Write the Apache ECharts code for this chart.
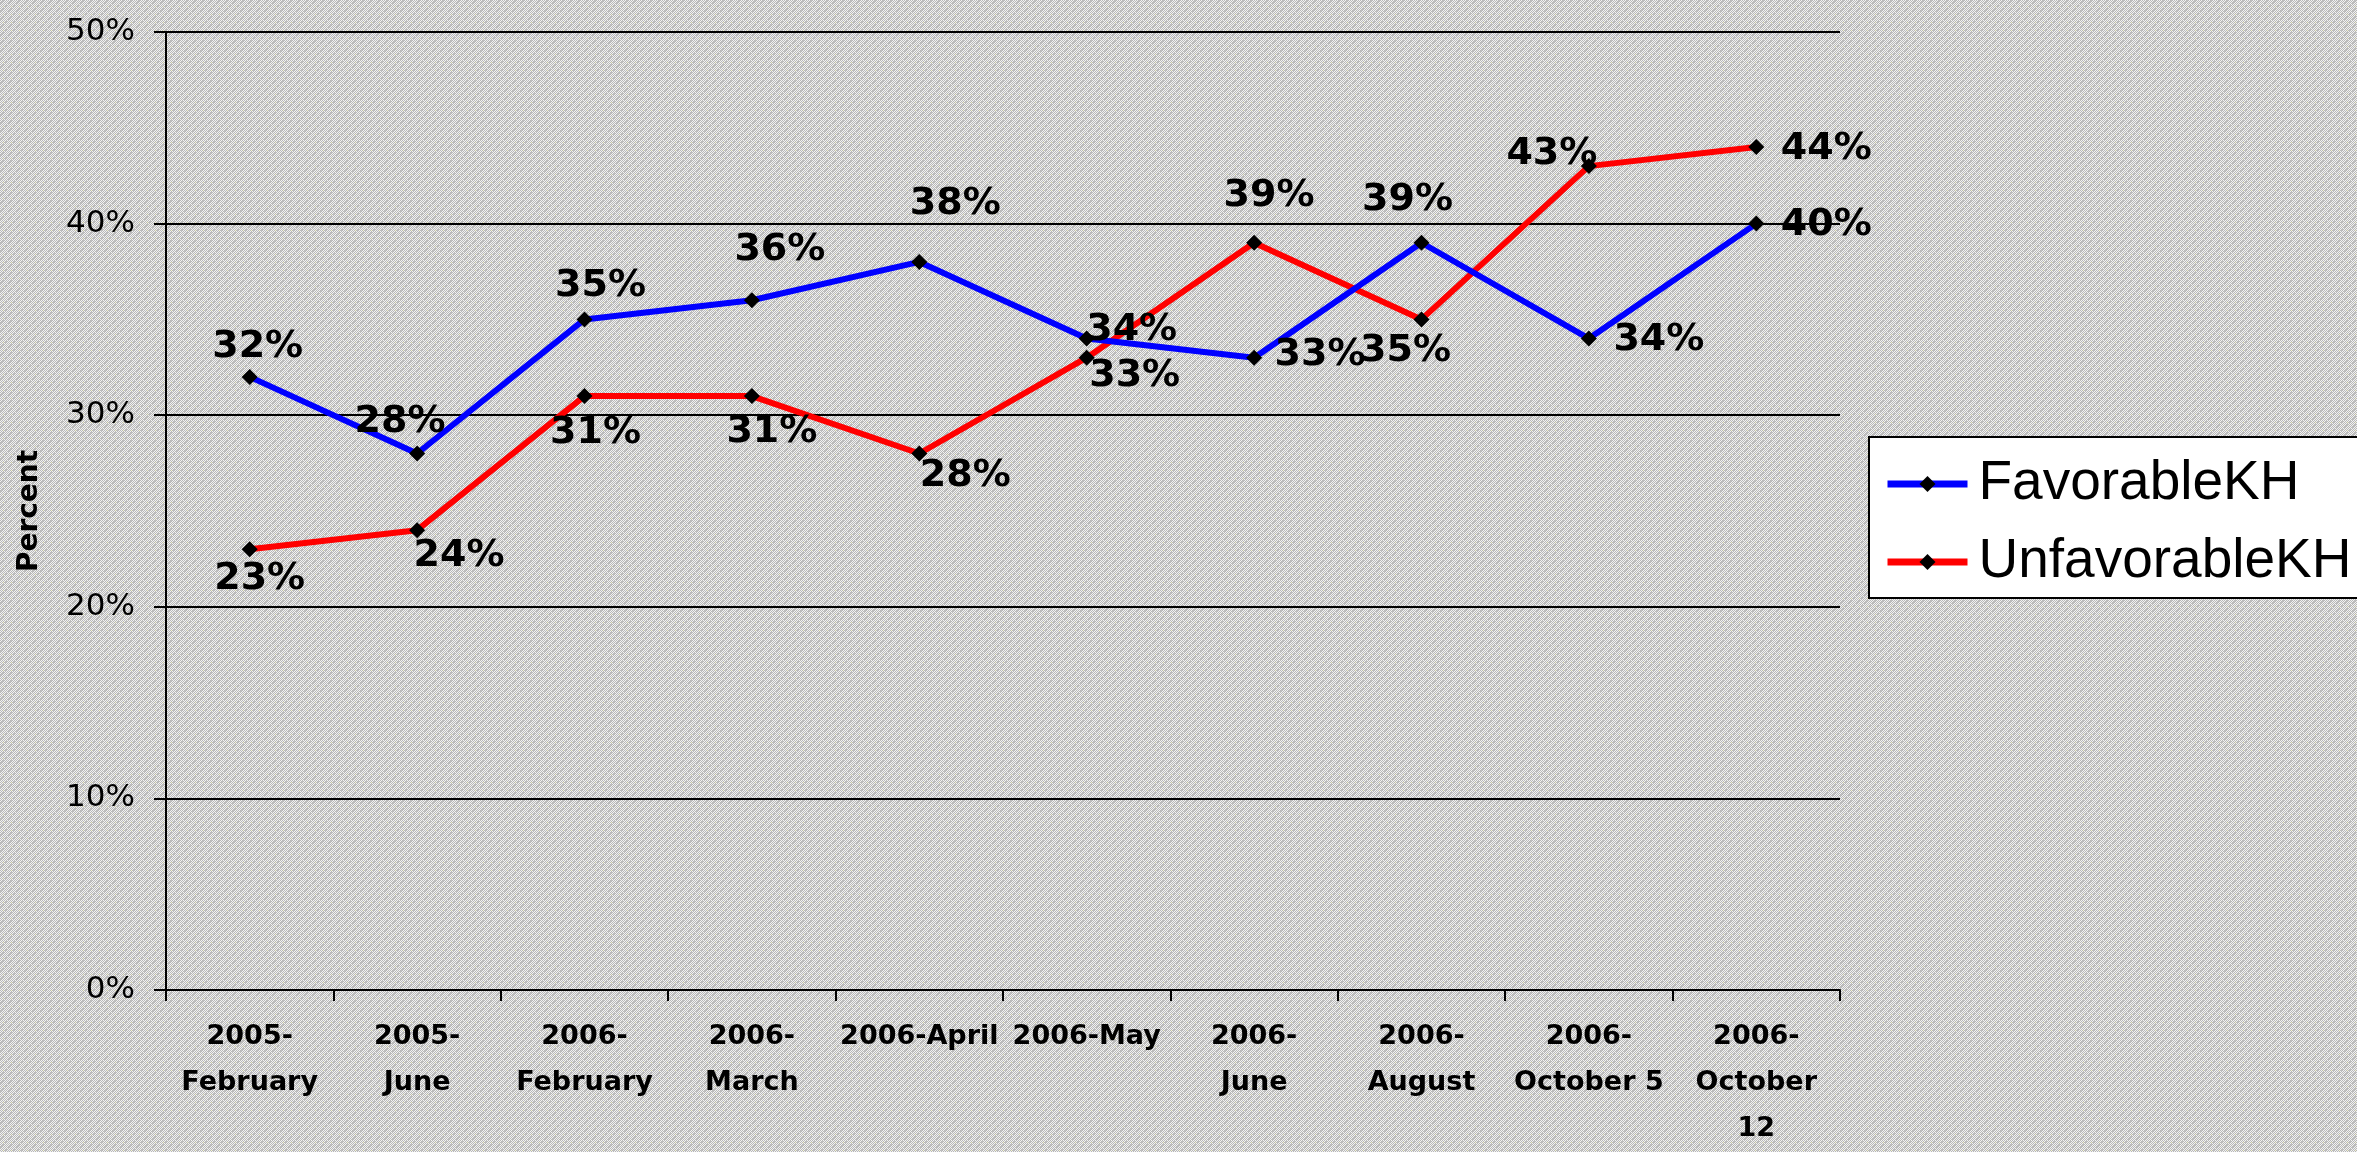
<!DOCTYPE html>
<html>
<head>
<meta charset="utf-8">
<script src="https://cdn.jsdelivr.net/npm/echarts@6/dist/echarts.min.js"></script>
<style>
  html, body { margin: 0; padding: 0; }
  #chart { width: 2357px; height: 1152px; }
</style>
</head>
<body>
<div id="chart"></div>
<script>
// ---- data ----
const categories = ['2005-\nFebruary', '2005-\nJune', '2006-\nFebruary', '2006-\nMarch', '2006-April', '2006-May', '2006-\nJune', '2006-\nAugust', '2006-\nOctober 5', '2006-\nOctober\n12'];
const favorableKH = [32, 28, 35, 36, 38, 34, 33, 39, 34, 40];
const unfavorableKH = [23, 24, 31, 31, 28, 33, 39, 35, 43, 44];
const seriesNames = ['FavorableKH', 'UnfavorableKH'];
const yAxisName = 'Percent';

// ---- layout (label placement around each point) ----
const favLabelOffsets = [[8,-30],[-17,-31],[16,-33],[28,-50],[36,-58],[45,-8],[66,-3],[-14,-43],[70,2],[70,2]];
const unfavLabelOffsets = [[10,30],[42,26],[11,37],[20,36],[46,23],[48,18],[15,-47],[-16,32],[-37,-12],[70,2]];

// textured background (dithered gray, like the original)
(function () {
  const c = document.createElement('canvas');
  c.width = 8; c.height = 8;
  const ctx = c.getContext('2d');
  ctx.fillStyle = '#f2f2f2';
  ctx.fillRect(0, 0, 8, 8);
  for (let y = 0; y < 8; y++) {
    for (let x = 0; x < 8; x++) {
      if ((x + y) % 2 === 0) { ctx.fillStyle = '#b8b8b8'; ctx.fillRect(x, y, 1, 1); }
    }
  }
  ctx.fillStyle = '#c0c0c0';
  [[1,2],[2,1],[5,6],[6,5],[3,0],[0,3]].forEach(p => ctx.fillRect(p[0], p[1], 1, 1));
  ctx.fillStyle = '#f6f6c8'; ctx.fillRect(3, 6, 1, 1);
  document.getElementById('chart').style.background = 'url(' + c.toDataURL() + ') repeat';
})();

const chart = echarts.init(document.getElementById('chart'), null, { renderer: 'canvas' });

function buildData(values, offsets) {
  return values.map((v, i) => ({ value: v, label: { offset: offsets[i] } }));
}

const labelStyle = {
  show: true,
  position: 'inside',
  formatter: '{c}%',
  fontFamily: 'DejaVu Sans',
  fontWeight: 'bold',
  fontSize: 38,
  color: '#000'
};

chart.setOption({
  backgroundColor: 'transparent',
  animation: false,
  grid: { left: 166, right: 517, top: 32, bottom: 147, containLabel: false },
  legend: {
    left: 1869, top: 437,
    orient: 'vertical',
    backgroundColor: '#ffffff',
    borderColor: '#000000',
    borderWidth: 2,
    borderRadius: 0,
    padding: [16, 10, 5, 15],
    itemGap: 16,
    itemWidth: 80,
    itemHeight: 20,
    selectedMode: false,
    lineStyle: { width: 7 },
    textStyle: { fontFamily: 'Liberation Sans', fontSize: 55, color: '#000', lineHeight: 62, padding: [0, 0, 0, 6] },
    data: seriesNames
  },
  xAxis: {
    type: 'category',
    data: categories,
    boundaryGap: true,
    axisLine: { lineStyle: { color: '#000', width: 2 } },
    axisTick: { show: true, length: 11, alignWithLabel: false, lineStyle: { color: '#000', width: 2 } },
    axisLabel: {
      interval: 0,
      margin: 24,
      fontFamily: 'DejaVu Sans',
      fontWeight: 'bold',
      fontSize: 27,
      lineHeight: 46,
      color: '#000'
    },
    splitLine: { show: false }
  },
  yAxis: {
    type: 'value',
    min: 0, max: 50, interval: 10,
    name: yAxisName,
    nameLocation: 'middle',
    nameGap: 122,
    nameRotate: 90,
    nameTextStyle: { fontFamily: 'DejaVu Sans', fontWeight: 'bold', fontSize: 28, color: '#000' },
    axisLine: { show: true, lineStyle: { color: '#000', width: 2 } },
    axisTick: { show: true, length: 12, lineStyle: { color: '#000', width: 2 } },
    axisLabel: {
      formatter: '{value}%',
      margin: 31,
      fontFamily: 'DejaVu Sans',
      fontSize: 31,
      color: '#000'
    },
    splitLine: { show: true, lineStyle: { color: '#000', width: 2 } }
  },
  series: [
    {
      name: seriesNames[0],
      type: 'line',
      data: buildData(favorableKH, favLabelOffsets),
      symbol: 'diamond',
      symbolSize: 16,
      lineStyle: { color: '#0000ff', width: 6 },
      itemStyle: { color: '#000' },
      label: labelStyle,
      z: 3
    },
    {
      name: seriesNames[1],
      type: 'line',
      data: buildData(unfavorableKH, unfavLabelOffsets),
      symbol: 'diamond',
      symbolSize: 16,
      lineStyle: { color: '#ff0000', width: 6 },
      itemStyle: { color: '#000' },
      label: labelStyle,
      z: 2
    }
  ]
});
</script>
</body>
</html>
